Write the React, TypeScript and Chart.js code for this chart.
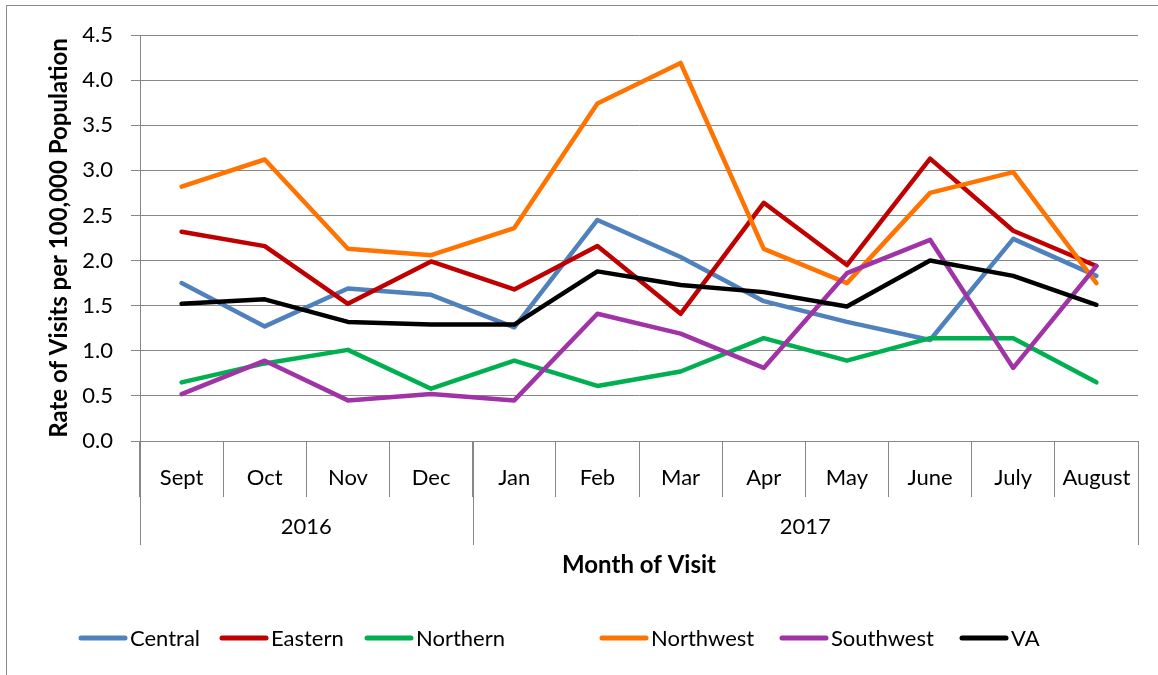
import React, { useEffect, useRef } from 'react';
import { Chart, registerables } from 'chart.js';

Chart.register(...registerables);

const months = ['Sept', 'Oct', 'Nov', 'Dec', 'Jan', 'Feb', 'Mar', 'Apr', 'May', 'June', 'July', 'August'];
const years = ['2016', '2017'];
const yearSpans = [4, 8];

const seriesNames = ['Central', 'Eastern', 'Northern', 'Northwest', 'Southwest', 'VA'];
const seriesColors = ['#4F81BD', '#C00000', '#00B050', '#FF7300', '#A033A5', '#000000'];

const central = [1.75, 1.27, 1.69, 1.62, 1.26, 2.45, 2.04, 1.55, 1.32, 1.12, 2.24, 1.83];
const eastern = [2.32, 2.16, 1.52, 1.99, 1.68, 2.16, 1.41, 2.64, 1.95, 3.13, 2.33, 1.94];
const northern = [0.65, 0.86, 1.01, 0.58, 0.89, 0.61, 0.77, 1.14, 0.89, 1.14, 1.14, 0.65];
const northwest = [2.82, 3.12, 2.13, 2.06, 2.36, 3.74, 4.19, 2.13, 1.75, 2.75, 2.98, 1.75];
const southwest = [0.52, 0.89, 0.45, 0.52, 0.45, 1.41, 1.19, 0.81, 1.86, 2.23, 0.81, 1.94];
const va = [1.52, 1.57, 1.32, 1.29, 1.29, 1.88, 1.73, 1.65, 1.49, 2.0, 1.83, 1.51];

const seriesValues = [central, eastern, northern, northwest, southwest, va];

const yTitle = 'Rate of Visits per 100,000 Population';
const xTitle = 'Month of Visit';

const FONT = 'Lato, "Open Sans", sans-serif';
const GRID = '#878787';

// legend layout (pixel positions of each legend entry's line start)
const LEGEND_X = [79, 220, 365, 600, 780, 960];
const LEGEND_Y = 638;
const LEGEND_LINE = 48;

const decorPlugin = {
  id: 'decor',
  beforeDraw(chart: any) {
    const ctx = chart.ctx;
    ctx.save();
    ctx.fillStyle = '#ffffff';
    ctx.fillRect(0, 0, chart.width, chart.height);
    ctx.strokeStyle = '#8a8a8a';
    ctx.lineWidth = 1;
    ctx.strokeRect(6.5, 5.5, chart.width + 20, chart.height + 20);
    ctx.restore();
  },
  afterDraw(chart: any) {
    const ctx = chart.ctx;
    const xs = chart.scales.x;
    const bottom = chart.chartArea.bottom;
    const step = (xs.right - xs.left) / months.length;
    ctx.save();
    // year row dividers and labels
    ctx.strokeStyle = GRID;
    ctx.lineWidth = 1;
    let idx = 0;
    const bounds: number[] = [0];
    yearSpans.forEach((s) => {
      idx += s;
      bounds.push(idx);
    });
    bounds.forEach((b) => {
      const px = Math.round(xs.left + b * step) + 0.5;
      ctx.beginPath();
      ctx.moveTo(px, bottom);
      ctx.lineTo(px, bottom + 104);
      ctx.stroke();
    });
    ctx.fillStyle = '#000';
    ctx.font = `22px ${FONT}`;
    ctx.textAlign = 'center';
    ctx.textBaseline = 'middle';
    years.forEach((yr, i) => {
      const cx = xs.left + ((bounds[i] + bounds[i + 1]) / 2) * step;
      ctx.fillText(yr, cx, bottom + 86);
    });
    // legend
    ctx.textAlign = 'left';
    chart.data.datasets.forEach((ds: any, i: number) => {
      const x0 = LEGEND_X[i];
      ctx.strokeStyle = ds.borderColor;
      ctx.lineWidth = 5;
      ctx.lineCap = 'round';
      ctx.beginPath();
      ctx.moveTo(x0 + 2, LEGEND_Y);
      ctx.lineTo(x0 + LEGEND_LINE - 2, LEGEND_Y);
      ctx.stroke();
      ctx.fillStyle = '#000';
      ctx.fillText(ds.label, x0 + LEGEND_LINE + 3, LEGEND_Y + 1);
    });
    ctx.restore();
  },
};

export default function App() {
  const ref = useRef<HTMLCanvasElement | null>(null);

  useEffect(() => {
    if (!ref.current) return;
    const chart = new Chart(ref.current, {
      type: 'line',
      data: {
        labels: months,
        datasets: seriesNames.map((name, i) => ({
          label: name,
          data: seriesValues[i],
          borderColor: seriesColors[i],
          backgroundColor: seriesColors[i],
          borderWidth: 4.5,
          pointRadius: 0,
          tension: 0,
          borderJoinStyle: 'round',
          borderCapStyle: 'round',
          order: seriesNames.length - i,
        })),
      },
      options: {
        animation: false,
        responsive: false,
        maintainAspectRatio: false,
        layout: { padding: { left: 47, right: 20, top: 35, bottom: 84 } },
        plugins: {
          tooltip: { enabled: false },
          legend: { display: false },
        },
        scales: {
          x: {
            type: 'category',
            offset: true,
            grid: {
              display: true,
              offset: true,
              drawOnChartArea: false,
              drawTicks: true,
              tickLength: 56,
              color: GRID,
            },
            border: { display: true, color: GRID },
            ticks: {
              color: '#000',
              font: { family: FONT, size: 22 },
              padding: -32,
              maxRotation: 0,
              autoSkip: false,
            },
            title: {
              display: true,
              text: xTitle,
              color: '#000',
              font: { family: FONT, size: 24, weight: 'bold' },
              padding: { top: 0, bottom: 11 },
            },
            afterFit: (s: any) => {
              s.height = 150;
            },
          },
          y: {
            min: 0,
            max: 4.5,
            ticks: {
              stepSize: 0.5,
              color: '#000',
              font: { family: FONT, size: 22 },
              padding: 18,
              callback: (v: any) => Number(v).toFixed(1),
            },
            grid: { color: GRID, tickLength: 9, drawTicks: true },
            border: { display: true, color: GRID },
            title: {
              display: true,
              text: yTitle,
              color: '#000',
              font: { family: FONT, size: 24, weight: 'bold' },
              padding: { top: -2, bottom: 0 },
            },
            afterFit: (s: any) => {
              s.width = 93;
            },
          },
        },
      },
      plugins: [decorPlugin],
    } as any);
    return () => chart.destroy();
  }, []);

  return (
    <div style={{ position: 'fixed', left: 0, top: 0, width: 1158, height: 675, background: '#fff' }}>
      <canvas ref={ref} width={1158} height={675} style={{ width: 1158, height: 675, display: 'block' }} />
    </div>
  );
}
